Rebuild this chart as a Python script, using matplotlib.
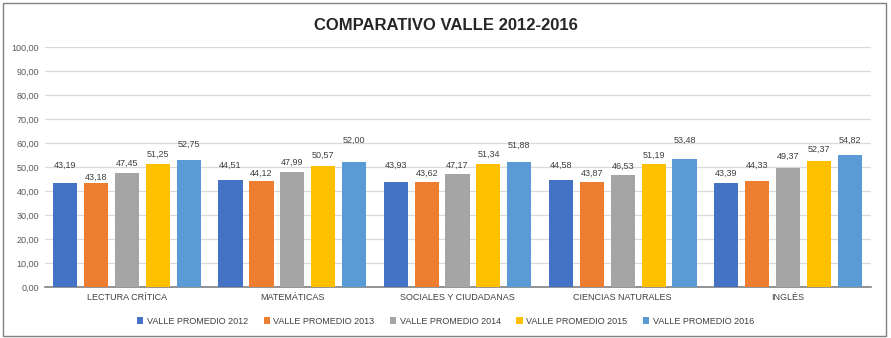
import matplotlib
matplotlib.use("Agg")
import matplotlib.pyplot as plt
from matplotlib.patches import Rectangle
import numpy as np

plt.rcParams['font.family'] = ['Liberation Sans', 'DejaVu Sans']

categories = ["LECTURA CRÍTICA", "MATEMÁTICAS", "SOCIALES Y CIUDADANAS", "CIENCIAS NATURALES", "INGLÉS"]
series_names = ["VALLE PROMEDIO 2012", "VALLE PROMEDIO 2013", "VALLE PROMEDIO 2014",
                "VALLE PROMEDIO 2015", "VALLE PROMEDIO 2016"]
v2012 = [43.19, 44.51, 43.93, 44.58, 43.39]
v2013 = [43.18, 44.12, 43.62, 43.87, 44.33]
v2014 = [47.45, 47.99, 47.17, 46.53, 49.37]
v2015 = [51.25, 50.57, 51.34, 51.19, 52.37]
v2016 = [52.75, 52.00, 51.88, 53.48, 54.82]
series = [v2012, v2013, v2014, v2015, v2016]
colors = ["#4472C4", "#ED7D31", "#A5A5A5", "#FFC000", "#5B9BD5"]
yticks = [0, 10, 20, 30, 40, 50, 60, 70, 80, 90, 100]

# label offsets above bar tops (per series, per category), as placed in the original
label_offsets = [
    [7.6, 6.3, 6.9, 6.2, 4.1],
    [2.4, 3.4, 3.9, 3.6, 6.5],
    [4.25, 4.1, 3.6, 3.9, 5.2],
    [4.15, 4.4, 4.1, 3.8, 5.0],
    [6.55, 9.0, 7.0, 7.8, 6.4],
]

fig = plt.figure(figsize=(8.91, 3.38), dpi=100)
ax = fig.add_axes([0.05, 0.151, 0.927, 0.71])

x = np.arange(len(categories))
step = 0.187
width = 0.146
for i, (vals, c, name) in enumerate(zip(series, colors, series_names)):
    pos = x + (i - 2) * step
    ax.bar(pos, vals, width=width, color=c, label=name, zorder=3)
    for j, (p, v) in enumerate(zip(pos, vals)):
        ax.text(p, v + label_offsets[i][j], f"{v:.2f}".replace(".", ","), ha="center",
                va="center", fontsize=6.5, color="#404040", zorder=4)

ax.set_ylim(0, 100)
ax.set_xlim(-0.5, len(categories) - 0.5)
ax.set_yticks(yticks)
ax.set_yticklabels([f"{t:.2f}".replace(".", ",") for t in yticks], fontsize=6.5, color="#595959")
ax.set_xticks(x)
ax.set_xticklabels(categories, fontsize=6.5, color="#404040")
ax.tick_params(axis="both", length=0, pad=4)
ax.grid(axis="y", color="#D9D9D9", linewidth=0.9, zorder=0)
for s in ["top", "right", "left"]:
    ax.spines[s].set_visible(False)
ax.spines["bottom"].set_color("#808080")
ax.spines["bottom"].set_linewidth(1.2)

fig.text(0.5, 0.925, "COMPARATIVO VALLE 2012-2016", ha="center", va="center",
         fontsize=12, fontweight="bold", color="#262626")

leg = fig.legend(loc="center", bbox_to_anchor=(0.5, 0.05), ncol=5, frameon=False,
                 fontsize=6.5, handlelength=0.7, handleheight=0.7, columnspacing=1.7,
                 handletextpad=0.4)
for t in leg.get_texts():
    t.set_color("#404040")

fig.patches.append(Rectangle((0.003, 0.006), 0.991, 0.985, transform=fig.transFigure,
                             fill=False, edgecolor="#808080", linewidth=1.0))

fig.savefig("out.png", dpi=100)
